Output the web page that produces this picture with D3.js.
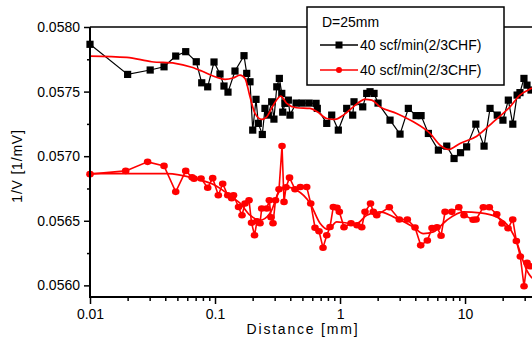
<!DOCTYPE html>
<html><head><meta charset="utf-8">
<script src="https://cdn.jsdelivr.net/npm/d3@7"></script>
<style>
html,body{margin:0;padding:0;background:#fff;}
svg{display:block;font-family:"Liberation Sans",Arial,sans-serif;}
</style></head>
<body><svg id="c" width="532" height="338"></svg>
<script>
// ---- data ----
const blackDist = [0.01,0.02,0.0303,0.0391,0.0485,0.0583,0.0708,0.0783,0.0874,0.0982,0.1096,0.118,0.127,0.1445,0.1706,0.1793,0.1905,0.2003,0.2128,0.222,0.239,0.251,0.267,0.284,0.296,0.312,0.327,0.342,0.348,0.363,0.386,0.398,0.445,0.497,0.565,0.643,0.658,0.783,0.858,0.969,1.131,1.263,1.294,1.519,1.635,1.738,1.871,2.014,2.512,3.02,3.52,4.06,4.45,5.09,6.12,7.14,8.17,9.2,10.3,12.2,14.2,15.85,18.1,20.1,22.2,24.1,26.1,27.5,29.6,31.3,33.7];
const blackVal = [0.057866,0.057633,0.057667,0.057692,0.057775,0.057809,0.057731,0.057568,0.057537,0.057729,0.057636,0.057543,0.057496,0.057659,0.057778,0.057641,0.057576,0.057202,0.05744,0.057254,0.057168,0.05737,0.057318,0.057421,0.057287,0.057537,0.057602,0.057486,0.057341,0.057409,0.057434,0.057318,0.057411,0.057411,0.057411,0.057409,0.05737,0.057254,0.057318,0.057202,0.05737,0.057318,0.057421,0.057382,0.057486,0.057499,0.057486,0.057411,0.057279,0.057171,0.05737,0.057314,0.057314,0.057176,0.057047,0.057078,0.056982,0.057027,0.057072,0.057248,0.057078,0.05737,0.057318,0.057279,0.057434,0.057248,0.057473,0.057492,0.057602,0.05755,0.057512];

const blackFitDist = [0.01,0.0197,0.0312,0.0479,0.0651,0.0783,0.1,0.1202,0.1393,0.1585,0.1738,0.1905,0.2089,0.2363,0.2592,0.2927,0.3355,0.3747,0.4504,0.5754,0.658,0.783,0.912,1.063,1.278,1.585,1.793,2.089,2.842,3.859,5.248,6.31,7.35,9.12,12.41,16.84,22.9,27.5,32.1,34.4];
const blackFitVal = [0.057775,0.057765,0.057731,0.057719,0.057688,0.057659,0.057615,0.057595,0.057605,0.057628,0.057602,0.05746,0.057331,0.057285,0.057305,0.057395,0.057465,0.057409,0.057375,0.05737,0.057344,0.057292,0.057285,0.057318,0.057382,0.05744,0.057434,0.057382,0.057331,0.057266,0.057176,0.057085,0.057052,0.057099,0.057155,0.057266,0.057382,0.057473,0.057512,0.057527];

const redDist = [0.01,0.0193,0.0289,0.0391,0.0485,0.0583,0.0655,0.0679,0.0773,0.0874,0.0958,0.1063,0.1152,0.1264,0.136,0.1406,0.1542,0.1644,0.1738,0.1871,0.1959,0.207,0.2168,0.2291,0.2363,0.2592,0.272,0.2805,0.2911,0.3048,0.3251,0.3436,0.3565,0.3698,0.3945,0.4365,0.4814,0.5416,0.5831,0.631,0.6792,0.7311,0.783,0.8318,0.8836,0.9462,0.9872,1.076,1.225,1.368,1.492,1.585,1.754,1.847,1.966,2.48,2.98,3.455,3.981,4.42,4.994,5.445,5.97,6.43,6.92,7.83,8.92,9.82,11.59,12.25,14.01,15.64,17.93,19.77,22.08,24.08,25.73,27.7,29.65,31.33,33.1];
const redVal = [0.056861,0.056886,0.056956,0.056925,0.056724,0.056886,0.056837,0.056826,0.056827,0.056756,0.05683,0.056698,0.056787,0.056698,0.056675,0.056698,0.056607,0.056543,0.056634,0.056659,0.056485,0.056388,0.056496,0.056481,0.056595,0.056595,0.056659,0.056527,0.056481,0.056659,0.056744,0.057078,0.056646,0.05676,0.056834,0.056744,0.056762,0.056762,0.056634,0.056446,0.056419,0.056291,0.056388,0.056452,0.056607,0.056601,0.056569,0.05645,0.056481,0.056465,0.05645,0.056569,0.056634,0.056569,0.056543,0.056605,0.05651,0.05651,0.056448,0.05631,0.056347,0.056444,0.05645,0.056384,0.056569,0.056569,0.056605,0.056543,0.056508,0.05651,0.056605,0.056605,0.056551,0.056479,0.056442,0.05651,0.056344,0.056223,0.055993,0.056175,0.056148];

const redFitDist = [0.01,0.0413,0.0692,0.1,0.136,0.1585,0.1905,0.2291,0.2754,0.3311,0.3631,0.4504,0.5754,0.6918,0.806,0.941,1.131,1.36,1.635,2.089,2.67,3.859,4.64,5.58,7.14,9.69,13.18,17.93,22.9,25.9,28.4,31.2,34.4];
const redFitVal = [0.056865,0.056865,0.056827,0.056775,0.056685,0.056636,0.056543,0.056504,0.056558,0.056737,0.056762,0.056737,0.056636,0.056481,0.056432,0.056491,0.056483,0.056479,0.056543,0.056569,0.05653,0.056452,0.056401,0.056414,0.056504,0.056569,0.056561,0.05653,0.05644,0.056336,0.05622,0.056117,0.056055];

const yTicks = [0.0560,0.0565,0.0570,0.0575,0.0580];
const yMinor = [0.05625,0.05675,0.05725,0.05775];
const xTicks = [0.01,0.1,1,10];
const xTickLabels = ["0.01","0.1","1","10"];
const xMinor = [0.02,0.03,0.04,0.05,0.06,0.07,0.08,0.09,0.2,0.3,0.4,0.5,0.6,0.7,0.8,0.9,2,3,4,5,6,7,8,9,20,30];
const legendTitle = "D=25mm";
const seriesNames = ["40 scf/min(2/3CHF)","40 scf/min(2/3CHF)"];
const xTitle = "Distance [mm]";
const yTitle = "1/V [1/mV]";

// ---- chart ----
const svg = d3.select("#c");
const L = 90, R = 540.3, T = 27, B = 297;
const x = d3.scaleLog().domain([0.01, 40]).range([L, R]);
const y = d3.scaleLinear().domain([0.05591, 0.0580]).range([B, T]);

const zip = (a,b) => a.map((d,i)=>[d,b[i]]);
const black = zip(blackDist, blackVal), blackFit = zip(blackFitDist, blackFitVal);
const red = zip(redDist, redVal), redFit = zip(redFitDist, redFitVal);

const lineStraight = d3.line().x(d=>x(d[0])).y(d=>y(d[1]));
const lineSmooth = d3.line().x(d=>x(d[0])).y(d=>y(d[1])).curve(d3.curveMonotoneX);

const plot = svg.append("g");
// black series
plot.append("path").datum(black).attr("d", lineStraight).attr("fill","none").attr("stroke","#000").attr("stroke-width",1.2);
plot.selectAll("rect.b").data(black).enter().append("rect").attr("class","b")
  .attr("x", d=>x(d[0])-3.6).attr("y", d=>y(d[1])-3.6).attr("width",7.2).attr("height",7.2).attr("fill","#000");
plot.append("path").datum(blackFit).attr("d", lineSmooth).attr("fill","none").attr("stroke","#ff0000").attr("stroke-width",1.7);
// red series
plot.append("path").datum(red).attr("d", lineStraight).attr("fill","none").attr("stroke","#ff0000").attr("stroke-width",1.6);
plot.selectAll("ellipse.r").data(red).enter().append("ellipse").attr("class","r")
  .attr("cx", d=>x(d[0])).attr("cy", d=>y(d[1])).attr("rx",3.8).attr("ry",3.3).attr("fill","#ff0000");
plot.append("path").datum(redFit).attr("d", lineSmooth).attr("fill","none").attr("stroke","#ff0000").attr("stroke-width",1.7);

// frame top
svg.append("line").attr("x1",L).attr("x2",540).attr("y1",T).attr("y2",T).attr("stroke","#000").attr("stroke-width",1.5);

// axes
const fontSize = "14px";
svg.append("g").attr("transform",`translate(${L},0)`)
  .call(d3.axisLeft(y).tickValues(yTicks).tickSize(6).tickPadding(4).tickFormat(d3.format(".4f")));
svg.append("g").attr("transform",`translate(${L},0)`)
  .call(d3.axisLeft(y).tickValues(yMinor).tickSize(3).tickFormat(""));
svg.append("g").attr("transform",`translate(0,${B})`)
  .call(d3.axisBottom(x).tickValues(xTicks).tickSize(7).tickPadding(5).tickFormat((d,i)=>xTickLabels[i]));
svg.append("g").attr("transform",`translate(0,${B})`)
  .call(d3.axisBottom(x).tickValues(xMinor).tickSize(4).tickFormat(""));
svg.selectAll(".domain").remove();
svg.selectAll(".tick line").attr("stroke","#000").attr("stroke-width",1.5);
svg.selectAll(".tick text").attr("font-size",fontSize).attr("fill","#000").attr("font-family","Liberation Sans, Arial, sans-serif");
svg.append("line").attr("x1",L).attr("x2",L).attr("y1",T).attr("y2",B+1).attr("stroke","#000").attr("stroke-width",2);
svg.append("line").attr("x1",L-1).attr("x2",540).attr("y1",B).attr("y2",B).attr("stroke","#000").attr("stroke-width",2);

// titles
svg.append("text").attr("x",303).attr("y",334).attr("text-anchor","middle").attr("font-size","14px")
  .attr("letter-spacing","1.8px").attr("fill","#000").text(xTitle);
svg.append("text").attr("transform","translate(22,166) rotate(-90)").attr("text-anchor","middle").attr("font-size","14px")
  .attr("letter-spacing","0.8px").attr("fill","#000").text(yTitle);

// legend
const lg = svg.append("g");
lg.append("rect").attr("x",307).attr("y",7).attr("width",197).attr("height",78).attr("fill","#fff").attr("stroke","#000").attr("stroke-width",1.5);
lg.append("text").attr("x",322).attr("y",27).attr("font-size","14px").attr("fill","#000").text(legendTitle);
lg.append("line").attr("x1",320).attr("x2",358).attr("y1",45).attr("y2",45).attr("stroke","#000").attr("stroke-width",1.5);
lg.append("rect").attr("x",335.5).attr("y",41.5).attr("width",7).attr("height",7).attr("fill","#000");
lg.append("text").attr("x",360).attr("y",50).attr("font-size","14px").attr("fill","#000").text(seriesNames[0]);
lg.append("line").attr("x1",320).attr("x2",358).attr("y1",70).attr("y2",70).attr("stroke","#ff0000").attr("stroke-width",1.5);
lg.append("circle").attr("cx",339).attr("cy",70).attr("r",3).attr("fill","#ff0000");
lg.append("text").attr("x",360).attr("y",75).attr("font-size","14px").attr("fill","#000").text(seriesNames[1]);
</script></body></html>
